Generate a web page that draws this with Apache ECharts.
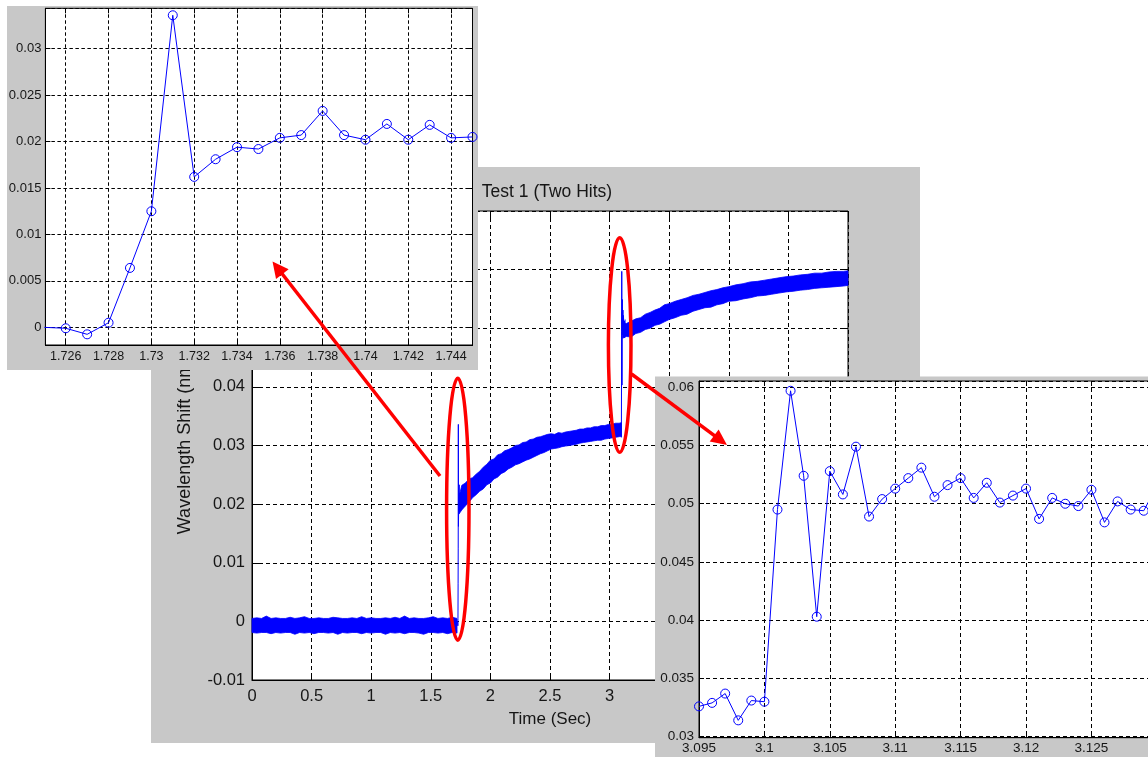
<!DOCTYPE html>
<html>
<head>
<meta charset="utf-8">
<script src="https://cdn.jsdelivr.net/npm/echarts@6/dist/echarts.min.js"></script>
<style>html,body{margin:0;padding:0;background:#fff}#c{width:1148px;height:757px}</style>
</head>
<body>
<div id="c"></div>
<script>
// ---------- texts ----------
const mainTitle = 'Test 1 (Two Hits)';
const mainXName = 'Time (Sec)';
const mainYName = 'Wavelength Shift (nm)';

// ---------- axis ranges / tick steps ----------
const mainXRange = [0, 5, 0.5];
const mainYRange = [-0.01, 0.07, 0.01];
const hit1XRange = [1.72505, 1.745, 0.002];
const hit1YRange = [-0.0019, 0.03435, 0.005];
const hit2XRange = [3.095, 3.1297, 0.005];
const hit2YRange = [0.02991, 0.06054, 0.005];

// ---------- noisy band envelope of the overview trace ----------
const bandATime = [0, 0.04, 0.08, 0.12, 0.16, 0.2, 0.24, 0.28, 0.32, 0.36, 0.4, 0.44, 0.48, 0.52, 0.56, 0.6, 0.64, 0.68, 0.72, 0.76, 0.8, 0.84, 0.88, 0.92, 0.96, 1, 1.04, 1.08, 1.12, 1.16, 1.2, 1.24, 1.28, 1.32, 1.36, 1.4, 1.44, 1.48, 1.52, 1.56, 1.6, 1.64, 1.68, 1.72];
const bandAHigh = [0.0005, 0.0006, 0.0005, 0.0009, 0.0005, 0.0006, 0.0005, 0.0005, 0.0007, 0.0005,
                   0.0006, 0.0008, 0.0005, 0.0005, 0.0006, 0.0005, 0.0005, 0.0007, 0.0006, 0.0005,
                   0.0005, 0.0006, 0.0005, 0.0008, 0.0005, 0.0006, 0.0005, 0.0005, 0.0006, 0.0005,
                   0.0007, 0.0005, 0.0009, 0.0005, 0.0006, 0.0005, 0.0005, 0.0006, 0.0008, 0.0005,
                   0.0006, 0.0005, 0.0007, 0.0005];
const bandALow  = [-0.0019, -0.0020, -0.0019, -0.0019, -0.0021, -0.0019, -0.0020, -0.0019, -0.0019, -0.0022,
                   -0.0019, -0.0020, -0.0019, -0.0021, -0.0019, -0.0019, -0.0020, -0.0019, -0.0022, -0.0019,
                   -0.0020, -0.0019, -0.0019, -0.0021, -0.0019, -0.0020, -0.0019, -0.0019, -0.0022, -0.0019,
                   -0.0020, -0.0019, -0.0021, -0.0019, -0.0019, -0.0020, -0.0022, -0.0019, -0.0019, -0.0020,
                   -0.0019, -0.0021, -0.0019, -0.0020];

const bandBTime = [1.736, 1.76, 1.79, 1.82, 1.85, 1.88, 1.91, 1.94, 1.97, 2.00, 2.03, 2.06, 2.09, 2.12, 2.15, 2.18, 2.21, 2.24, 2.27, 2.30, 2.33, 2.36, 2.39, 2.42, 2.45, 2.48, 2.51, 2.54, 2.57, 2.60, 2.63, 2.66, 2.69, 2.72, 2.75, 2.78, 2.81, 2.84, 2.87, 2.90, 2.93, 2.96, 2.99, 3.02, 3.05, 3.08, 3.099];
const bandBHigh = [0.0212, 0.0232, 0.0236, 0.0243, 0.0245, 0.0251, 0.0256, 0.0263, 0.0268, 0.0275,
                   0.0277, 0.0284, 0.0286, 0.0291, 0.0293, 0.0296, 0.0300, 0.0301, 0.0305, 0.0306,
                   0.0310, 0.0311, 0.0314, 0.0315, 0.0317, 0.0319, 0.0320, 0.0319, 0.0322, 0.0321,
                   0.0323, 0.0324, 0.0325, 0.0326, 0.0328, 0.0328, 0.0330, 0.0330, 0.0332, 0.0332,
                   0.0334, 0.0334, 0.0336, 0.0336, 0.0338, 0.0338, 0.0339];
const bandBLow  = [0.0183, 0.0190, 0.0197, 0.0203, 0.0211, 0.0216, 0.0222, 0.0226, 0.0233, 0.0236,
                   0.0243, 0.0246, 0.0252, 0.0255, 0.0260, 0.0263, 0.0267, 0.0269, 0.0272, 0.0275,
                   0.0277, 0.0280, 0.0283, 0.0286, 0.0288, 0.0291, 0.0294, 0.0295, 0.0296, 0.0298,
                   0.0299, 0.0300, 0.0301, 0.0302, 0.0304, 0.0305, 0.0306, 0.0307, 0.0308, 0.0309,
                   0.0309, 0.0311, 0.0312, 0.0313, 0.0314, 0.0315, 0.0316];

const bandCTime = [3.11, 3.14, 3.18, 3.22, 3.26, 3.30, 3.34, 3.38, 3.42, 3.46, 3.50, 3.55, 3.60, 3.65, 3.70, 3.75, 3.80, 3.85, 3.90, 3.95, 4.00, 4.06, 4.12, 4.18, 4.24, 4.30, 4.36, 4.42, 4.48, 4.54, 4.60, 4.66, 4.72, 4.78, 4.84, 4.90, 4.96, 5.00];
const bandCHigh = [0.0510, 0.0508, 0.0512, 0.0516, 0.0518, 0.0524, 0.0527, 0.0531, 0.0534, 0.0540,
                   0.0542, 0.0546, 0.0549, 0.0552, 0.0556, 0.0558, 0.0561, 0.0564, 0.0566, 0.0569,
                   0.0571, 0.0574, 0.0576, 0.0579, 0.0580, 0.0582, 0.0584, 0.0586, 0.0588, 0.0589,
                   0.0591, 0.0592, 0.0594, 0.0594, 0.0596, 0.0597, 0.0597, 0.0598];
const bandCLow  = [0.0483, 0.0486, 0.0485, 0.0491, 0.0493, 0.0498, 0.0500, 0.0505, 0.0507, 0.0511,
                   0.0515, 0.0518, 0.0522, 0.0524, 0.0529, 0.0532, 0.0535, 0.0536, 0.0540, 0.0542,
                   0.0546, 0.0547, 0.0550, 0.0552, 0.0555, 0.0556, 0.0558, 0.0560, 0.0562, 0.0563,
                   0.0565, 0.0566, 0.0568, 0.0569, 0.0570, 0.0571, 0.0572, 0.0573];

// ---------- sampled data around the two hits ----------
const hit1Time  = [1.725, 1.726, 1.727, 1.728, 1.729, 1.730, 1.731, 1.732, 1.733, 1.734, 1.735, 1.736, 1.737, 1.738, 1.739, 1.740, 1.741, 1.742, 1.743, 1.744, 1.745];
const hit1Value = [0.0000, -0.0001, -0.00075, 0.0005, 0.0064, 0.0125, 0.0336, 0.0162, 0.0181, 0.0194, 0.0192, 0.0204, 0.0207, 0.0233, 0.0207, 0.0202, 0.0219, 0.0202, 0.0218, 0.0204, 0.0205];

const hit2Time  = [3.095, 3.096, 3.097, 3.098, 3.099, 3.100, 3.101, 3.102, 3.103, 3.104, 3.105, 3.106, 3.107, 3.108, 3.109, 3.110, 3.111, 3.112, 3.113, 3.114, 3.115, 3.116, 3.117, 3.118, 3.119, 3.120, 3.121, 3.122, 3.123, 3.124, 3.125, 3.126, 3.127, 3.128, 3.129, 3.130];
const hit2Value = [0.0326, 0.0329, 0.0337, 0.0314, 0.0331, 0.0330, 0.0495, 0.0597, 0.0524, 0.0403, 0.0528, 0.0508, 0.0549, 0.0489, 0.0504, 0.0513, 0.0522, 0.0531, 0.0506, 0.0516, 0.0522, 0.0505, 0.0518, 0.0501, 0.0507, 0.0513, 0.0487, 0.0505, 0.0500, 0.0498, 0.0512, 0.0484, 0.0502, 0.0495, 0.0494, 0.0515];

// ---------- styles ----------
const FONT = '"Liberation Sans", Arial, sans-serif';
const BLUE = '#0000ff';
const RED = '#ff0000';
const GRAY = '#c8c8c8';
const INK = '#161616';

function zip(a, b) { return a.map((v, i) => [v, b[i]]); }
function tickFmt(step) {
  return function (v) {
    const r = Math.round(v / step);
    if (Math.abs(v - r * step) > step * 1e-3) return '';
    return String(parseFloat((r * step).toFixed(6)));
  };
}

function valAxis(range, gridIndex, o) {
  const [mn, mx, step] = range;
  const ax = {
    type: 'value', gridIndex: gridIndex, min: mn, max: mx,
    scale: true, z: o.z,
    axisLine: { show: !!o.line, onZero: false, lineStyle: { color: '#000', width: 1 } },
    axisTick: { show: true, inside: true, length: o.tick, lineStyle: { color: '#000', width: 1 } },
    axisLabel: o.label ? { show: true, formatter: tickFmt(step), color: INK, fontFamily: FONT, fontSize: o.fs, margin: o.margin, showMinLabel: true, showMaxLabel: true } : { show: false },
    splitLine: o.split ? { show: true, lineStyle: { color: '#000', width: 1, type: o.dash } } : { show: false }
  };
  if (o.exact) { ax.interval = step; } else { ax.minInterval = step; ax.maxInterval = step; }
  if (o.position) ax.position = o.position;
  if (o.name) Object.assign(ax, o.name);
  return ax;
}

function bandSeries(times, lows, highs) {
  return {
    type: 'custom', xAxisIndex: 0, yAxisIndex: 0, z: 3, silent: true,
    data: times.map((t, i) => [t, lows[i], highs[i]]),
    encode: { x: 0, y: [1, 2] },
    renderItem: function (params, api) {
      if (params.dataIndex !== 0) return null;
      const pts = [];
      for (let i = 0; i < times.length; i++) pts.push(api.coord([times[i], highs[i]]));
      for (let i = times.length - 1; i >= 0; i--) pts.push(api.coord([times[i], lows[i]]));
      return { type: 'polygon', shape: { points: pts }, style: { fill: BLUE, stroke: BLUE, lineWidth: 0.8 } };
    }
  };
}

function arrowEls(x1, y1, x2, y2, len, half, w, z) {
  const dx = x2 - x1, dy = y2 - y1, L = Math.hypot(dx, dy), ux = dx / L, uy = dy / L;
  const bx = x2 - ux * len, by = y2 - uy * len, px = -uy, py = ux;
  return [
    { type: 'line', z: z, silent: true, shape: { x1: x1, y1: y1, x2: bx + ux * 2, y2: by + uy * 2 }, style: { stroke: RED, lineWidth: w } },
    { type: 'polygon', z: z, silent: true, shape: { points: [[x2, y2], [bx + px * half, by + py * half], [bx - px * half, by - py * half]] }, style: { fill: RED } }
  ];
}

const chart = echarts.init(document.getElementById('c'), null, { renderer: 'canvas', width: 1148, height: 757 });

const gridBase = { show: true, backgroundColor: '#fff', borderColor: '#000', borderWidth: 1, containLabel: false, outerBoundsMode: 'none' };

const option = {
  animation: false,
  backgroundColor: '#fff',
  title: {
    text: mainTitle, left: 547, top: 183, textAlign: 'center', textVerticalAlign: 'top', padding: 0, z: 3,
    textStyle: { color: INK, fontFamily: FONT, fontSize: 17.5, fontWeight: 'normal' }
  },
  grid: [
    Object.assign({}, gridBase, { left: 252, top: 211, width: 596, height: 469, z: 1 }),
    Object.assign({}, gridBase, { left: 45.4, top: 8.3, width: 427.1, height: 336.7, z: 11 }),
    Object.assign({}, gridBase, { left: 699, top: 381, width: 453.9, height: 356.7, z: 21 })
  ],
  xAxis: [
    valAxis(mainXRange, 0, { z: 2, line: true, tick: 7, label: true, fs: 16.5, margin: 8, split: true, dash: [4, 3], exact: true,
      name: { name: mainXName, nameLocation: 'middle', nameGap: 31, nameTextStyle: { color: INK, fontFamily: FONT, fontSize: 17 } } }),
    valAxis(mainXRange, 0, { z: 2, tick: 7, position: 'top', exact: true }),
    valAxis(hit1XRange, 1, { z: 12, line: true, tick: 5, label: true, fs: 12.5, margin: 5, split: true, dash: [3.5, 2.5] }),
    valAxis(hit1XRange, 1, { z: 12, tick: 5, position: 'top' }),
    valAxis(hit2XRange, 2, { z: 22, line: true, tick: 5, label: true, fs: 13.5, margin: 4, split: true, dash: [4, 3] }),
    valAxis(hit2XRange, 2, { z: 22, tick: 5, position: 'top' })
  ],
  yAxis: [
    valAxis(mainYRange, 0, { z: 2, line: true, tick: 7, label: true, fs: 16.5, margin: 7, split: true, dash: [4, 3], exact: true,
      name: { name: mainYName, nameLocation: 'middle', nameGap: 58, nameTextStyle: { color: INK, fontFamily: FONT, fontSize: 18 } } }),
    valAxis(mainYRange, 0, { z: 2, tick: 7, position: 'right', exact: true }),
    valAxis(hit1YRange, 1, { z: 12, line: true, tick: 5, label: true, fs: 13, margin: 4, split: true, dash: [3.5, 2.5] }),
    valAxis(hit1YRange, 1, { z: 12, tick: 5, position: 'right' }),
    valAxis(hit2YRange, 2, { z: 22, line: true, tick: 5, label: true, fs: 13.5, margin: 5, split: true, dash: [4, 3] })
  ],
  series: [
    bandSeries(bandATime, bandALow, bandAHigh),
    bandSeries(bandBTime, bandBLow, bandBHigh),
    bandSeries(bandCTime, bandCLow, bandCHigh),
    { type: 'line', xAxisIndex: 0, yAxisIndex: 0, z: 4, data: zip(hit1Time, hit1Value), symbol: 'none', lineStyle: { color: BLUE, width: 1 }, silent: true },
    { type: 'line', xAxisIndex: 0, yAxisIndex: 0, z: 4, data: zip(hit2Time, hit2Value), symbol: 'none', lineStyle: { color: BLUE, width: 1 }, silent: true },
    { type: 'line', xAxisIndex: 2, yAxisIndex: 2, z: 13, data: zip(hit1Time, hit1Value), symbol: 'circle', symbolSize: 9, clip: true,
      itemStyle: { color: 'rgba(0,0,0,0)', borderColor: BLUE, borderWidth: 1 }, lineStyle: { color: BLUE, width: 1 }, silent: true },
    { type: 'line', xAxisIndex: 4, yAxisIndex: 4, z: 23, data: zip(hit2Time, hit2Value), symbol: 'circle', symbolSize: 9, clip: true,
      itemStyle: { color: 'rgba(0,0,0,0)', borderColor: BLUE, borderWidth: 1 }, lineStyle: { color: BLUE, width: 1 }, silent: true }
  ],
  graphic: {
    elements: [
      { type: 'rect', z: 0, silent: true, shape: { x: 151, y: 167, width: 769, height: 576 }, style: { fill: GRAY } },
      { type: 'rect', z: 10, silent: true, shape: { x: 7, y: 6, width: 471, height: 364 }, style: { fill: GRAY } },
      { type: 'rect', z: 20, silent: true, shape: { x: 655, y: 376.5, width: 500, height: 390 }, style: { fill: GRAY } },
      { type: 'ellipse', z: 30, silent: true, shape: { cx: 457.8, cy: 509.2, rx: 11.2, ry: 131 }, style: { fill: null, stroke: RED, lineWidth: 3.5 } },
      { type: 'ellipse', z: 30, silent: true, shape: { cx: 619.7, cy: 345, rx: 11.3, ry: 107.3 }, style: { fill: null, stroke: RED, lineWidth: 3.5 } }
    ].concat(arrowEls(440, 476, 272.5, 261.5, 16, 8, 3.5, 30))
     .concat(arrowEls(631.5, 374, 727, 445, 16, 7.5, 3.5, 30))
  }
};

chart.setOption(option);
</script>
</body>
</html>
